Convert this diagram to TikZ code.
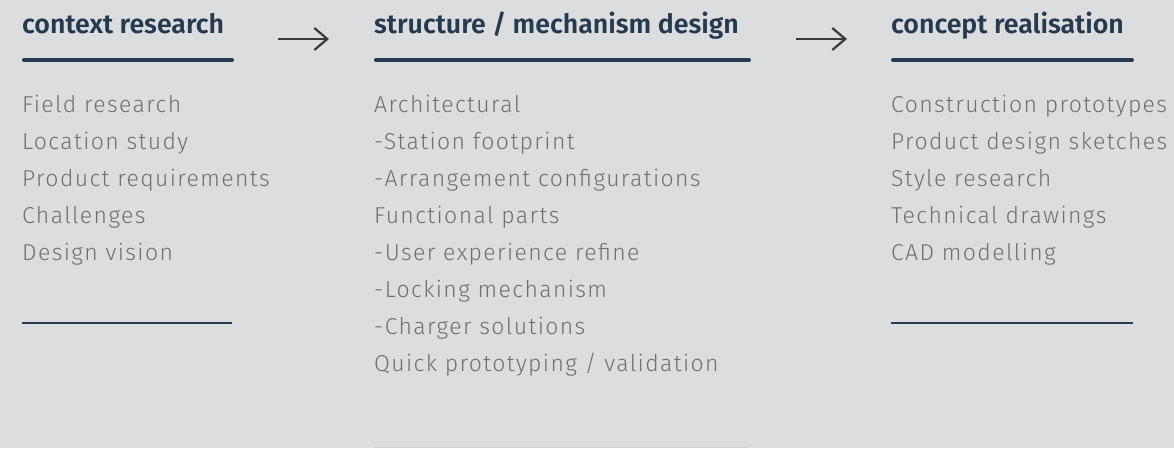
\documentclass[tikz,border=0pt]{standalone}
\usepackage{fontspec}
\setmainfont{Fira Sans}
\newfontfamily\headfont{Fira Sans}[UprightFont={* SemiBold}]
\newfontfamily\bodyfont{Fira Sans}[UprightFont={* Light},LetterSpace=6]
\usetikzlibrary{arrows.meta}
\definecolor{bg}{HTML}{DCDDDF}
\definecolor{head}{HTML}{253A4F}
\definecolor{body}{HTML}{707070}
\definecolor{arr}{HTML}{3A3A3A}
\definecolor{faint}{HTML}{D0D1D5}
\tikzset{
  headtxt/.style={anchor=base west,inner sep=0pt,text=head,font=\headfont\fontsize{26.7}{30}\selectfont},
  bodytxt/.style={anchor=base west,inner sep=0pt,text=body,font=\bodyfont\fontsize{23}{30}\selectfont},
  thickrule/.style={draw=head,line width=4pt,line cap=round},
  thinrule/.style={draw=head,line width=1.6pt},
  flowarrow/.style={draw=arr,line width=2pt,-{Straight Barb[length=13pt,width=22pt,line width=2.2pt]}}
}
\begin{document}
\begin{tikzpicture}[x=1pt,y=-1pt]
\fill[bg] (0,0) rectangle (1174,448);
\useasboundingbox (0,0) rectangle (1174,448);
% headers
\node[headtxt] (h1) at (22,33) {context research};
\node[headtxt] (h2) at (374,33) {structure / mechanism design};
\node[headtxt] (h3) at (891,33) {concept realisation};
% arrows
\coordinate (a1s) at (278,39); \coordinate (a1e) at (329,39);
\coordinate (a2s) at (796,39); \coordinate (a2e) at (847,39);
\draw[flowarrow] (a1s) -- (a1e);
\draw[flowarrow] (a2s) -- (a2e);
% thick rules
\coordinate (r1a) at (24,60); \coordinate (r1b) at (232,60);
\coordinate (r2a) at (376,60); \coordinate (r2b) at (749,60);
\coordinate (r3a) at (893,60); \coordinate (r3b) at (1132,60);
\draw[thickrule] (r1a) -- (r1b);
\draw[thickrule] (r2a) -- (r2b);
\draw[thickrule] (r3a) -- (r3b);
% body texts
\foreach \t [count=\i] in {Field research,Location study,Product requirements,Challenges,Design vision}
  \node[bodytxt] (b1-\i) at (22,{112+37*(\i-1)}) {\t};
\foreach \t [count=\i] in {Architectural,-Station footprint,-Arrangement configurations,Functional parts,-User experience refine,-Locking mechanism,-Charger solutions,Quick prototyping / validation}
  \node[bodytxt] (b2-\i) at (374,{112+37*(\i-1)}) {\t};
\foreach \t [count=\i] in {Construction prototypes,Product design sketches,Style research,Technical drawings,CAD modelling}
  \node[bodytxt] (b3-\i) at (891,{112+37*(\i-1)}) {\t};
% thin rules
\coordinate (t1a) at (22,323); \coordinate (t1b) at (232,323);
\coordinate (t3a) at (891,323); \coordinate (t3b) at (1133,323);
\draw[thinrule] (t1a) -- (t1b);
\draw[thinrule] (t3a) -- (t3b);
\coordinate (t2a) at (374,447.5); \coordinate (t2b) at (749,447.5);
\draw[faint,line width=1.5pt] (t2a) -- (t2b);
\end{tikzpicture}
\end{document}
